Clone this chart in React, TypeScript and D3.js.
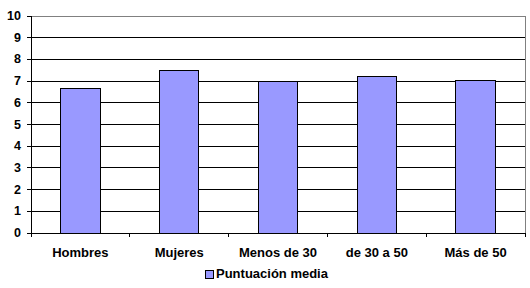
import React from "react";
import * as d3 from "d3";

const categories = ["Hombres", "Mujeres", "Menos de 30", "de 30 a 50", "Más de 50"];
const values = [6.67, 7.5, 7.0, 7.2, 7.05];
const yTicks = [0, 1, 2, 3, 4, 5, 6, 7, 8, 9, 10];
const seriesName = "Puntuación media";

export default function App() {
  const W = 530, H = 288;
  const left = 31, right = 525, top = 16, bottom = 233;
  const x = d3.scaleBand<string>().domain(categories).range([left, right]).paddingInner(0.6).paddingOuter(0.3);
  const band = d3.scaleBand<string>().domain(categories).range([left, right]);
  const y = d3.scaleLinear().domain([0, 10]).range([bottom, top]);
  const font = "'Liberation Sans', Arial, sans-serif";
  const boundaries = categories.map((c) => band(c) as number).concat([right]);
  return (
    <svg width={W} height={H} style={{ position: "absolute", left: 0, top: 0, background: "#fff" }} fontFamily={font}>
      <rect x={0} y={0} width={W} height={H} fill="#fff" />
      {yTicks.filter((t) => t > 0 && t < 10).map((t) => (
        <line key={"g" + t} x1={left} x2={right} y1={y(t)} y2={y(t)} stroke="#000" strokeWidth={1} shapeRendering="crispEdges" />
      ))}
      <line x1={left} x2={right} y1={y(10)} y2={y(10)} stroke="#808080" shapeRendering="crispEdges" />
      <line x1={right} x2={right} y1={top} y2={bottom} stroke="#808080" shapeRendering="crispEdges" />
      {categories.map((c, i) => (
        <rect key={c} x={x(c)} y={y(values[i])} width={x.bandwidth()} height={bottom - y(values[i])} fill="#9999FF" stroke="#000" strokeWidth={1} shapeRendering="crispEdges" />
      ))}
      <line x1={left} x2={left} y1={top} y2={bottom} stroke="#000" shapeRendering="crispEdges" />
      <line x1={left} x2={right} y1={bottom} y2={bottom} stroke="#000" shapeRendering="crispEdges" />
      {yTicks.map((t) => (
        <g key={"t" + t}>
          <line x1={left - 4} x2={left} y1={y(t)} y2={y(t)} stroke="#000" shapeRendering="crispEdges" />
          <text x={21} y={y(t)} textAnchor="end" dominantBaseline="central" fontSize={12.5} fontWeight="bold">{t}</text>
        </g>
      ))}
      {boundaries.map((b, i) => (
        <line key={"xt" + i} x1={b} x2={b} y1={bottom} y2={bottom + 4} stroke="#000" shapeRendering="crispEdges" />
      ))}
      {categories.map((c) => (
        <text key={"l" + c} x={(band(c) as number) + band.bandwidth() / 2} y={257} textAnchor="middle" fontSize={13} fontWeight="bold">{c}</text>
      ))}
      <rect x={205} y={270} width={8} height={8} fill="#9999FF" stroke="#000" shapeRendering="crispEdges" />
      <text x={216} y={278} fontSize={13} fontWeight="bold">{seriesName}</text>
    </svg>
  );
}
